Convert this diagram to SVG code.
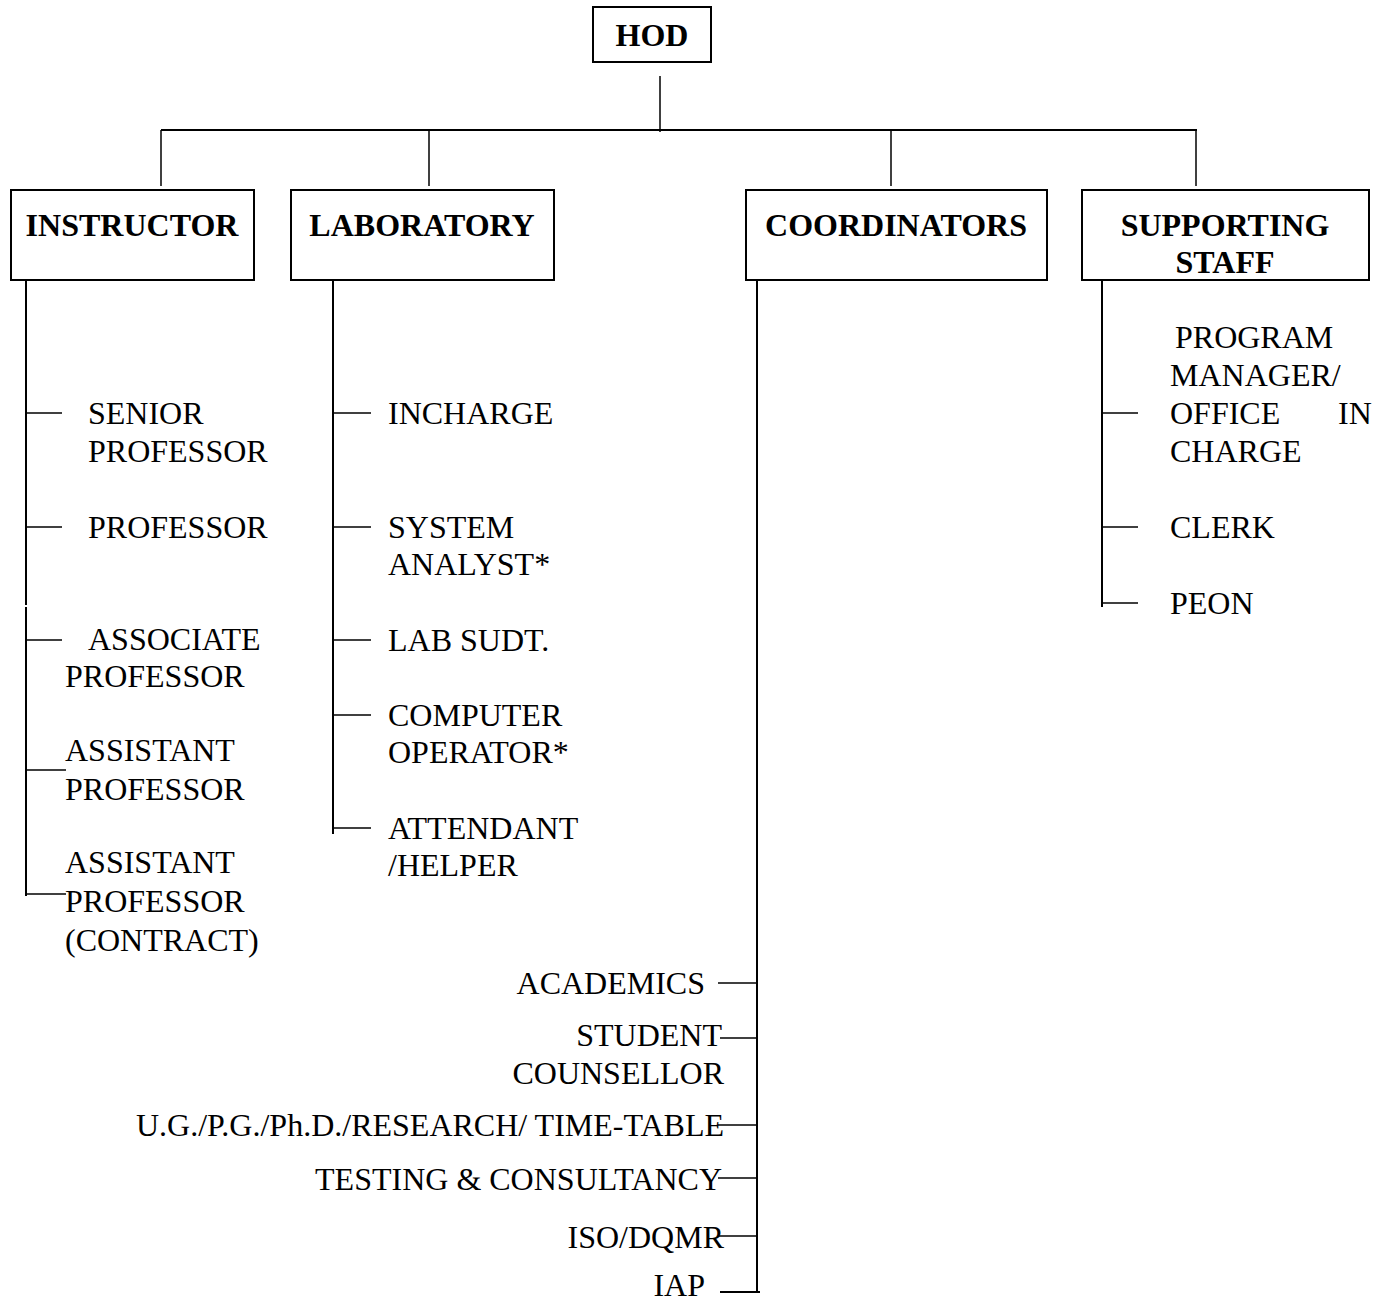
<svg xmlns="http://www.w3.org/2000/svg" width="1386" height="1303" viewBox="0 0 1386 1303">
<style>
.box{fill:#fff;stroke:#000;stroke-width:2}
.h{font-family:"Liberation Serif","Times New Roman",serif;font-weight:bold;font-size:32px;fill:#000}
.t{font-family:"Liberation Serif","Times New Roman",serif;font-size:32px;fill:#000}
.c{text-anchor:middle}
.r{text-anchor:end}
.ln{stroke:#000;stroke-width:1.5;fill:none}
.ln2{stroke:#000;stroke-width:2;fill:none}
</style>
<rect width="1386" height="1303" fill="#fff"/>
<g id="connectors">
<line class="ln" x1="660" y1="76" x2="660" y2="132"/>
<line class="ln2" x1="161" y1="130" x2="1197" y2="130"/>
<line class="ln" x1="161" y1="130" x2="161" y2="186"/>
<line class="ln" x1="429" y1="130" x2="429" y2="186"/>
<line class="ln" x1="891" y1="130" x2="891" y2="186"/>
<line class="ln" x1="1196" y1="130" x2="1196" y2="186"/>
<line class="ln2" x1="26" y1="281" x2="26" y2="605"/>
<line class="ln2" x1="26" y1="607" x2="26" y2="896"/>
<line class="ln" x1="26" y1="413" x2="62" y2="413"/>
<line class="ln" x1="26" y1="527" x2="62" y2="527"/>
<line class="ln" x1="26" y1="640" x2="62" y2="640"/>
<line class="ln" x1="26" y1="770" x2="66" y2="770"/>
<line class="ln" x1="26" y1="894" x2="66" y2="894"/>
<line class="ln2" x1="333" y1="281" x2="333" y2="834"/>
<line class="ln" x1="333" y1="413" x2="371" y2="413"/>
<line class="ln" x1="333" y1="527" x2="371" y2="527"/>
<line class="ln" x1="333" y1="640" x2="371" y2="640"/>
<line class="ln" x1="333" y1="715" x2="371" y2="715"/>
<line class="ln" x1="333" y1="828" x2="371" y2="828"/>
<line class="ln2" x1="757" y1="281" x2="757" y2="1292"/>
<line class="ln" x1="718" y1="983" x2="757" y2="983"/>
<line class="ln" x1="720" y1="1038" x2="757" y2="1038"/>
<line class="ln" x1="718" y1="1125" x2="757" y2="1125"/>
<line class="ln" x1="718" y1="1178" x2="757" y2="1178"/>
<line class="ln" x1="718" y1="1236" x2="757" y2="1236"/>
<line class="ln2" x1="720" y1="1292" x2="760" y2="1292"/>
<line class="ln2" x1="1102" y1="281" x2="1102" y2="607"/>
<line class="ln" x1="1102" y1="413" x2="1138" y2="413"/>
<line class="ln" x1="1102" y1="527" x2="1138" y2="527"/>
<line class="ln" x1="1102" y1="603" x2="1138" y2="603"/>
</g>
<g id="hod">
<rect class="box" x="593" y="7" width="118" height="55"/>
<text class="h c" x="652" y="46">HOD</text>
</g>
<g id="instructor">
<rect class="box" x="11" y="190" width="243" height="90"/>
<text class="h c" x="132" y="236">INSTRUCTOR</text>
</g>
<g id="laboratory">
<rect class="box" x="291" y="190" width="263" height="90"/>
<text class="h c" x="422" y="236">LABORATORY</text>
</g>
<g id="coordinators">
<rect class="box" x="746" y="190" width="301" height="90"/>
<text class="h c" x="896" y="236">COORDINATORS</text>
</g>
<g id="supporting-staff">
<rect class="box" x="1082" y="190" width="287" height="90"/>
<text class="h c" x="1225" y="236">SUPPORTING</text>
<text class="h c" x="1225" y="273">STAFF</text>
</g>
<g id="instructor-items">
<text class="t" x="88" y="424">SENIOR</text>
<text class="t" x="88" y="462">PROFESSOR</text>
<text class="t" x="88" y="538">PROFESSOR</text>
<text class="t" x="88" y="650">ASSOCIATE</text>
<text class="t" x="65" y="687">PROFESSOR</text>
<text class="t" x="65" y="761">ASSISTANT</text>
<text class="t" x="65" y="800">PROFESSOR</text>
<text class="t" x="65" y="873">ASSISTANT</text>
<text class="t" x="65" y="912">PROFESSOR</text>
<text class="t" x="65" y="951">(CONTRACT)</text>
</g>
<g id="laboratory-items">
<text class="t" x="388" y="424">INCHARGE</text>
<text class="t" x="388" y="538">SYSTEM</text>
<text class="t" x="388" y="575">ANALYST*</text>
<text class="t" x="388" y="651">LAB SUDT.</text>
<text class="t" x="388" y="726">COMPUTER</text>
<text class="t" x="388" y="763">OPERATOR*</text>
<text class="t" x="388" y="839">ATTENDANT</text>
<text class="t" x="388" y="876">/HELPER</text>
</g>
<g id="coordinator-items">
<text class="t r" x="705" y="994">ACADEMICS</text>
<text class="t r" x="722" y="1046">STUDENT</text>
<text class="t r" x="724" y="1084">COUNSELLOR</text>
<text class="t r" x="724" y="1136">U.G./P.G./Ph.D./RESEARCH/ TIME-TABLE</text>
<text class="t r" x="722" y="1190">TESTING &amp; CONSULTANCY</text>
<text class="t r" x="724" y="1248">ISO/DQMR</text>
<text class="t r" x="705" y="1296">IAP</text>
</g>
<g id="staff-items">
<text class="t" x="1175" y="348">PROGRAM</text>
<text class="t" x="1170" y="386">MANAGER/</text>
<text class="t" x="1170" y="424">OFFICE</text>
<text class="t" x="1338" y="424">IN</text>
<text class="t" x="1170" y="462">CHARGE</text>
<text class="t" x="1170" y="538">CLERK</text>
<text class="t" x="1170" y="614">PEON</text>
</g>
</svg>
